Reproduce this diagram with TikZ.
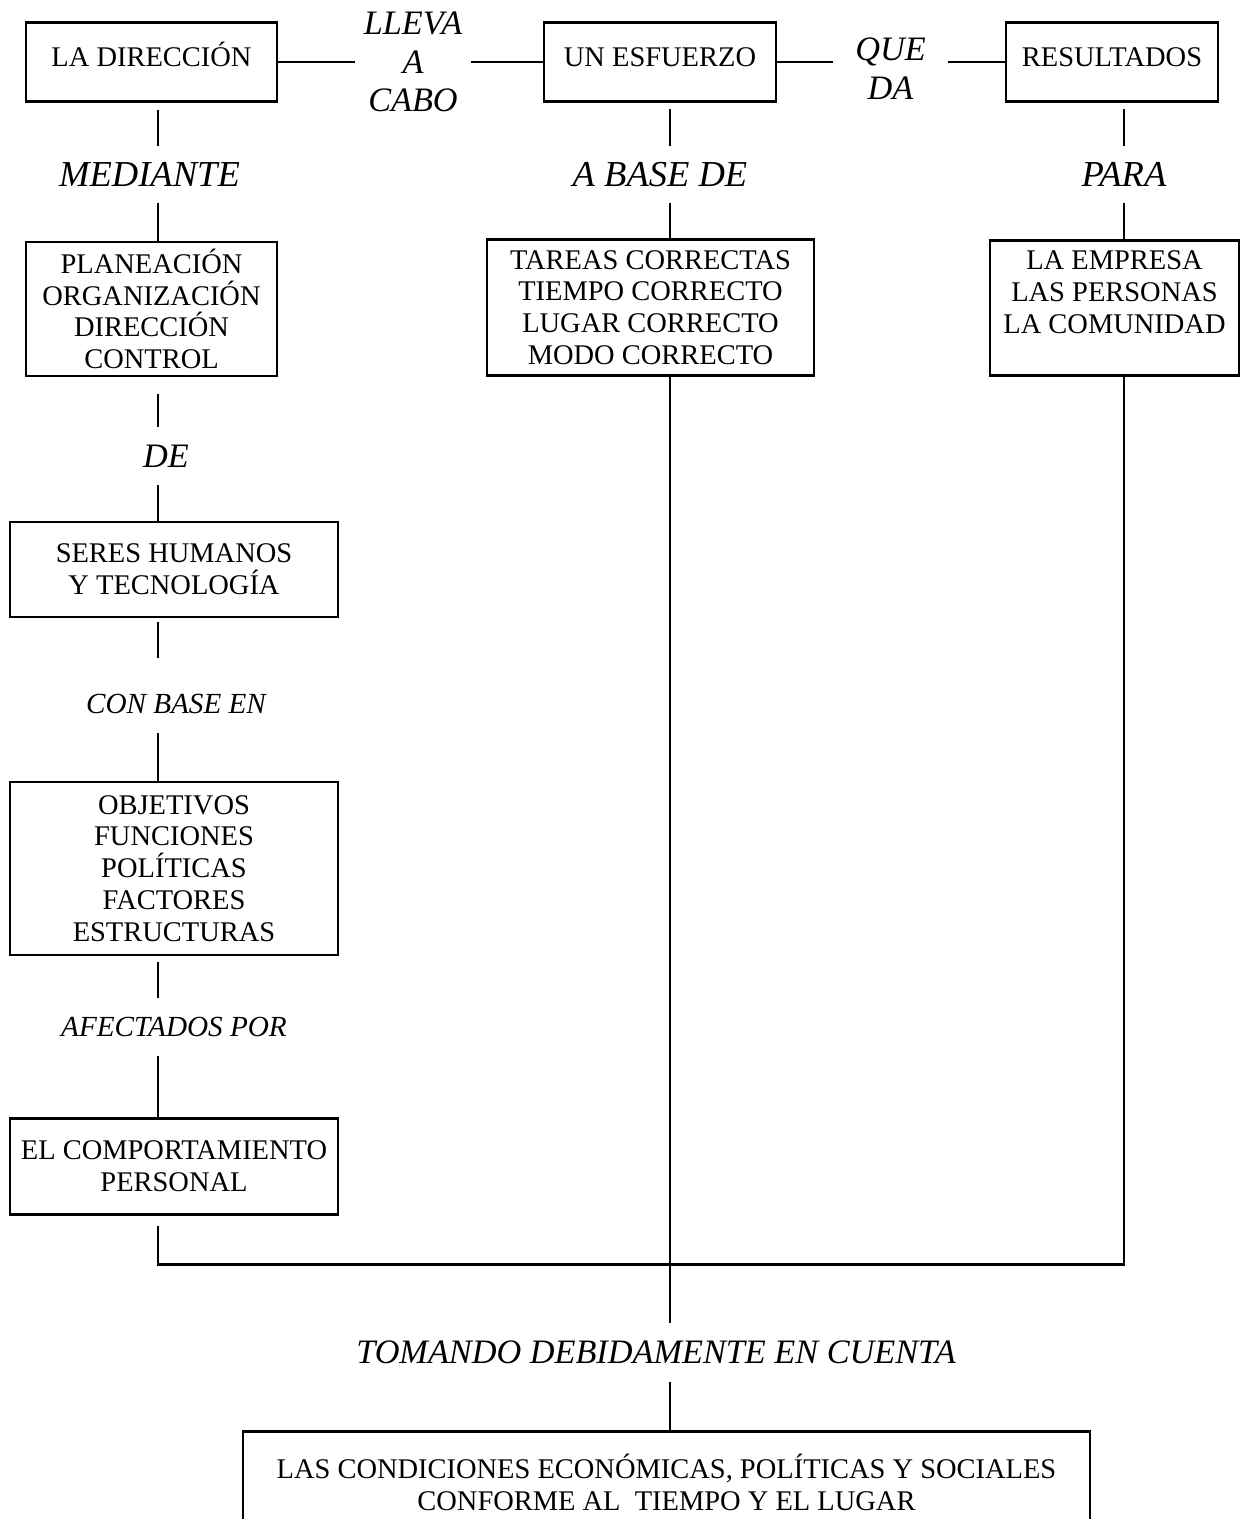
\documentclass[tikz,border=0pt]{standalone}
\usepackage{fontspec}
\setmainfont{Liberation Serif}
\usepackage{tikz}
\newcommand{\textocaja}{\fontsize{16.2}{18.1}\selectfont}
\newcommand{\textorotulo}{\fontsize{19.5}{22}\selectfont\itshape}
\newcommand{\rotulogrande}{\fontsize{20.8}{22}\selectfont\itshape}
\newcommand{\rotulochico}{\fontsize{16.6}{20}\selectfont\itshape}

\begin{document}
\begin{tikzpicture}[node distance=2cm,
    caja/.style={draw,line width=1.6pt,align=center,inner sep=2pt,font=\textocaja},
    cajaarriba/.style={caja,minimum height=1.58cm,text height=10.7pt,text depth=5.6pt},
    rotulo/.style={align=center,inner sep=0pt,minimum height=1.14cm,font=\textorotulo},
    linea/.style={line width=1.5pt},
    lineafina/.style={line width=1pt}]

  \useasboundingbox (0,0) rectangle (24.8,-30.38);

  % fila de arriba
  \node[cajaarriba,minimum width=5.02cm] (dir) at (3.03,-1.24) {LA DIRECCIÓN};
  \node[rotulo,minimum width=2.32cm] (llevar) [right of=dir,node distance=5.23cm] {LLEVA\\A\\CABO};
  \node[cajaarriba,minimum width=4.64cm] (esf) [right of=dir,node distance=10.17cm] {UN ESFUERZO};
  \node[rotulo,minimum width=2.3cm] (queda) [right of=esf,node distance=4.61cm,yshift=-0.13cm] {QUE\\DA};
  \node[cajaarriba,minimum width=4.24cm] (res) [right of=esf,node distance=9.04cm] {RESULTADOS};

  \coordinate (ejeA) at ([xshift=0.13cm]dir.center);
  \coordinate (ejeB) at ([xshift=0.2cm]esf.center);
  \coordinate (ejeC) at ([xshift=0.24cm]res.center);

  % columna izquierda
  \node[rotulo,font=\rotulogrande] (mediante) [below of=dir,node distance=2.25cm,xshift=-0.04cm] {MEDIANTE};
  \node[caja,minimum width=5.02cm,minimum height=2.68cm] (plan) [below of=dir,node distance=4.94cm]
    {PLANEACIÓN\\ORGANIZACIÓN\\DIRECCIÓN\\CONTROL};
  \node[rotulo] (de) [below of=plan,node distance=2.94cm,xshift=0.29cm] {DE};
  \node[caja,minimum width=6.56cm,minimum height=1.9cm] (seres) [below of=plan,node distance=5.21cm,xshift=0.45cm]
    {SERES HUMANOS\\Y TECNOLOGÍA};
  \node[rotulo,font=\rotulochico] (conbase) [below of=seres,node distance=2.69cm,xshift=0.04cm] {CON BASE EN};
  \node[caja,minimum width=6.56cm,minimum height=3.46cm] (obj) [below of=seres,node distance=5.98cm]
    {OBJETIVOS\\FUNCIONES\\POLÍTICAS\\FACTORES\\ESTRUCTURAS};
  \node[rotulo,font=\rotulochico] (afect) [below of=obj,node distance=3.17cm] {AFECTADOS POR};
  \node[caja,minimum width=6.56cm,minimum height=1.92cm] (pers) [below of=obj,node distance=5.96cm]
    {EL COMPORTAMIENTO\\PERSONAL};
  \coordinate (base) at ([yshift=-0.97cm]pers.south);

  % columna del centro
  \node[rotulo,font=\rotulogrande] (abase) [below of=esf,node distance=2.25cm] {A BASE DE};
  \node[caja,minimum width=6.54cm,minimum height=2.72cm] (tareas) [below of=esf,node distance=4.91cm,xshift=-0.19cm]
    {TAREAS CORRECTAS\\TIEMPO CORRECTO\\LUGAR CORRECTO\\MODO CORRECTO};
  \node[rotulo,minimum height=1.16cm] (tomando) [below of=tareas,node distance=20.9cm,xshift=0.11cm]
    {TOMANDO DEBIDAMENTE EN CUENTA};
  \node[caja,minimum width=16.94cm,minimum height=2.04cm] (cond) [below of=tareas,node distance=23.5cm,xshift=0.32cm]
    {LAS CONDICIONES ECONÓMICAS, POLÍTICAS Y SOCIALES\\CONFORME AL~~TIEMPO Y EL LUGAR};

  % columna derecha
  \node[rotulo,font=\rotulogrande] (para) [below of=res,node distance=2.25cm,xshift=0.24cm] {PARA};
  \node[caja,minimum width=4.98cm,minimum height=2.7cm] (empresa) [below of=res,node distance=4.92cm,xshift=0.05cm]
    {LA EMPRESA\\LAS PERSONAS\\LA COMUNIDAD\\\mbox{}};

  % lineas de arriba
  \draw[linea] (dir.east) -- (dir.east -| llevar.west);
  \draw[linea] (dir.east -| llevar.east) -- (esf.west);
  \draw[linea] (esf.east) -- (esf.east -| queda.west);
  \draw[linea] (esf.east -| queda.east) -- (res.west);

  % lineas de la izquierda
  \draw[linea,shorten <=4pt] (dir.south -| ejeA) -- (mediante.north -| ejeA);
  \draw[linea] (mediante.south -| ejeA) -- (plan.north -| ejeA);
  \draw[linea,shorten <=9.6pt] (plan.south -| ejeA) -- (de.north -| ejeA);
  \draw[linea] (de.south -| ejeA) -- (seres.north -| ejeA);
  \draw[linea,shorten <=2pt,shorten >=10pt] (seres.south -| ejeA) -- (conbase.north -| ejeA);
  \draw[linea] (conbase.south -| ejeA) -- (obj.north -| ejeA);
  \draw[linea,shorten <=3.4pt] (obj.south -| ejeA) -- (afect.north -| ejeA);
  \draw[linea] (afect.south -| ejeA) -- (pers.north -| ejeA);
  \draw[linea,shorten <=6pt] (pers.south -| ejeA) |- (base -| ejeC) -- (empresa.south -| ejeC);

  % lineas del centro
  \draw[linea,shorten <=3.4pt] (esf.south -| ejeB) -- (abase.north -| ejeB);
  \draw[linea] (abase.south -| ejeB) -- (tareas.north -| ejeB);
  \draw[lineafina] (tareas.south -| ejeB) -- (tomando.north -| ejeB);
  \draw[lineafina] (tomando.south -| ejeB) -- (cond.north -| ejeB);

  % lineas de la derecha
  \draw[linea,shorten <=3.4pt] (res.south -| ejeC) -- (para.north -| ejeC);
  \draw[linea] (para.south -| ejeC) -- (empresa.north -| ejeC);
\end{tikzpicture}
\end{document}
